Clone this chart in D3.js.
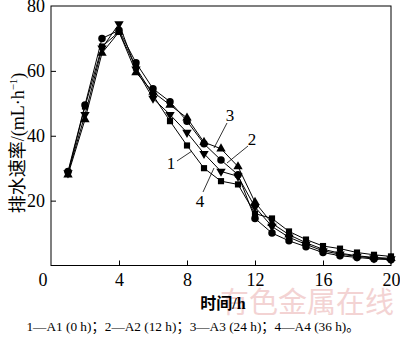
<!DOCTYPE html>
<html><head><meta charset="utf-8">
<script src="https://cdn.jsdelivr.net/npm/d3@7"></script>
<style>
html,body{margin:0;padding:0;background:#fff;}
svg{display:block;}
text{font-family:"Liberation Serif","Noto Sans CJK SC",serif;fill:#000;}
</style></head>
<body>
<svg id="c" width="400" height="338"></svg>
<script>
const hours = [1,2,3,4,5,6,7,8,9,10,11,12,13,14,15,16,17,18,19,20];
const seriesNames = ["A1","A2","A3","A4"];
const seriesLabels = ["1","2","3","4"];
const markerTypes = ["square","circle","triangleUp","triangleDown"];
const A1 = [28.5,49,67.5,72,61,52.5,44.5,37,30,26,25,16,14.5,10.5,8,6,5.2,4,3.3,2.8];
const A2 = [29,49.5,70,72.5,62.5,54.5,50.5,44.5,37.5,32.5,28,14.5,10,7.6,5.8,4,3,2.5,2,1.8];
const A3 = [28,45,65.5,72,59.5,53.5,49.5,45.5,38,36,30.5,19.5,13,9.5,7,5,3.8,3,2.5,2.2];
const A4 = [28.5,46.5,67,74.5,60.5,51.5,46.5,41,34.5,29,27.5,18,12,8.7,6.5,4.5,3.5,2.8,2.3,2];
const allSeries = [A1,A2,A3,A4];
const xTicks = [4,8,12,16,20];
const yTicks = [20,40,60,80];
const xTitle = "时间/h";
const yTitle = "排水速率/(mL·h";
const caption = "1—A1 (0 h)；2—A2 (12 h)；3—A3 (24 h)；4—A4 (36 h)。";
const watermark = "有色金属在线";

const svg = d3.select("#c");
const L=51, R=391, T=6, B=265.5;
const x = d3.scaleLinear().domain([0,20]).range([L,R]);
const y = d3.scaleLinear().domain([0,80]).range([B,T]);

// watermark
svg.append("text").attr("x",307).attr("y",313).attr("text-anchor","middle")
  .style("font-family","Noto Sans CJK SC").style("font-size","29px")
  .style("fill","#f3d3d3").text(watermark);

// frame
svg.append("rect").attr("x",L).attr("y",T).attr("width",R-L).attr("height",B-T)
  .attr("fill","none").attr("stroke","#000").attr("stroke-width",1);

const xAxis = d3.axisBottom(x).tickValues(xTicks).tickSizeInner(-5).tickSizeOuter(0).tickPadding(8).tickFormat(d3.format("d"));
const gx = svg.append("g").attr("transform",`translate(0,${B})`).call(xAxis);
const yAxis = d3.axisLeft(y).tickValues(yTicks).tickSizeInner(-5).tickSizeOuter(0).tickPadding(6).tickFormat(d3.format("d"));
const gy = svg.append("g").attr("transform",`translate(${L},0)`).call(yAxis);
[gx,gy].forEach(g=>{
  g.select(".domain").remove();
  g.selectAll("line").attr("stroke","#000");
  g.selectAll("text").style("font-family","Liberation Serif").style("font-size","18px").attr("fill","#000");
});
gx.selectAll(".tick").filter(d=>d===20).select("line").remove();
gy.selectAll(".tick").filter(d=>d===80).select("line").remove();
// origin label
svg.append("text").attr("x",x(0)-8).attr("y",B+8).attr("dy","0.71em").attr("text-anchor","middle")
  .style("font-size","18px").text("0");

// lines
const line = d3.line().x((d,i)=>x(hours[i])).y(d=>y(d));
allSeries.forEach(s=>{
  svg.append("path").attr("d",line(s)).attr("fill","none").attr("stroke","#000").attr("stroke-width",1);
});
// markers
const sym = {
  square: d3.symbol().type(d3.symbolSquare).size(38),
  circle: d3.symbol().type(d3.symbolCircle).size(44),
  triangleUp: d3.symbol().type(d3.symbolTriangle).size(38),
};
allSeries.forEach((s,k)=>{
  const t = markerTypes[k];
  svg.append("g").selectAll("path").data(s).join("path")
    .attr("d", t==="triangleDown" ? sym.triangleUp() : sym[t]())
    .attr("transform",(d,i)=>`translate(${x(hours[i])},${y(d)})${t==="triangleDown"?" rotate(180)":""}`)
    .attr("fill","#000");
});

// series labels with leaders
const lab = [
  {t:seriesLabels[0], tx:171, ty:169, x1:177, y1:161, x2:192, y2:151},
  {t:seriesLabels[1], tx:252, ty:145, x1:248, y1:146, x2:227, y2:163},
  {t:seriesLabels[2], tx:230, ty:121, x1:227, y1:123, x2:214, y2:148},
  {t:seriesLabels[3], tx:200, ty:207, x1:203, y1:192, x2:214, y2:168},
];
lab.forEach(l=>{
  svg.append("line").attr("x1",l.x1).attr("y1",l.y1).attr("x2",l.x2).attr("y2",l.y2).attr("stroke","#000").attr("stroke-width",0.8);
  svg.append("text").attr("x",l.tx).attr("y",l.ty).attr("text-anchor","middle").style("font-size","17px").text(l.t);
});

// titles
svg.append("text").attr("x",223).attr("y",309).attr("text-anchor","middle")
  .style("font-size","16px").style("font-weight","bold").text(xTitle);
const yt = svg.append("text").attr("transform","translate(24,143) rotate(-90)").attr("text-anchor","middle")
  .style("font-size","18px");
yt.append("tspan").text(yTitle);
yt.append("tspan").attr("dy","-7").style("font-size","11px").text("−1");
yt.append("tspan").attr("dy","7").text(")");

svg.append("text").attr("x",193).attr("y",331).attr("text-anchor","middle")
  .style("font-size","13.3px").text(caption);
</script>
</body></html>
